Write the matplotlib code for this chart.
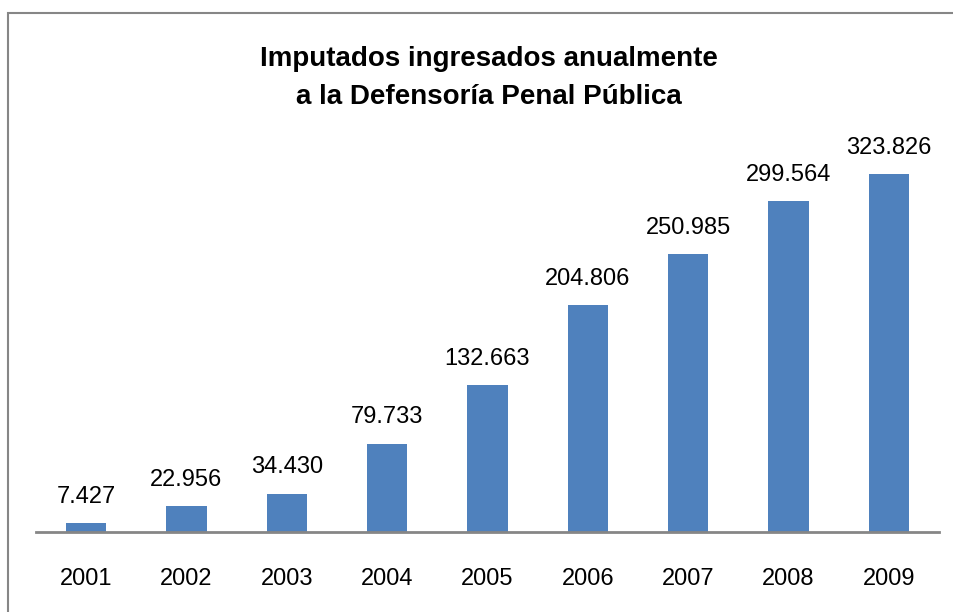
import matplotlib
matplotlib.use("Agg")
from matplotlib import pyplot as plt
from matplotlib.patches import Rectangle

# datos
years = ["2001", "2002", "2003", "2004", "2005", "2006", "2007", "2008", "2009"]
imputados = [7427, 22956, 34430, 79733, 132663, 204806, 250985, 299564, 323826]

plt.rcParams['font.family'] = ['Liberation Sans', 'DejaVu Sans']

fig = plt.figure(figsize=(9.54, 6.12), dpi=100)
ax = fig.add_axes([36/954, 1 - 531.7/612, (939 - 36)/954, (531.7 - 110)/612])

x = range(len(years))
bars = ax.bar(x, imputados, width=0.4, color="#4F81BD")

ax.set_xlim(-0.5, len(years) - 0.5)
ax.set_ylim(0, 381760)
ax.set_xticks(list(x))
ax.set_xticklabels(years, fontsize=17)
ax.tick_params(axis='x', length=0, pad=26)
ax.set_yticks([])
for s in ['top', 'right', 'left']:
    ax.spines[s].set_visible(False)
ax.spines['bottom'].set_color("#868686")
ax.spines['bottom'].set_linewidth(2)

# etiquetas de valores
for xi, v in zip(x, imputados):
    ax.annotate(f"{v:,}".replace(",", "."), (xi, v), xytext=(0, 11),
                textcoords="offset points", ha='center', va='bottom', fontsize=17)

fig.text(489/954, 1 - 78/612, "Imputados ingresados anualmente\na la Defensoría Penal Pública",
         ha='center', va='center', fontsize=20, fontweight='bold', linespacing=1.6)

# borde del grafico
fig.patches.append(Rectangle((8.5/954, -0.1), 1.2, 1 - 12.5/612 + 0.1,
                             transform=fig.transFigure, fill=False,
                             edgecolor="#868686", linewidth=1.5))

fig.savefig("out.png", dpi=100)
